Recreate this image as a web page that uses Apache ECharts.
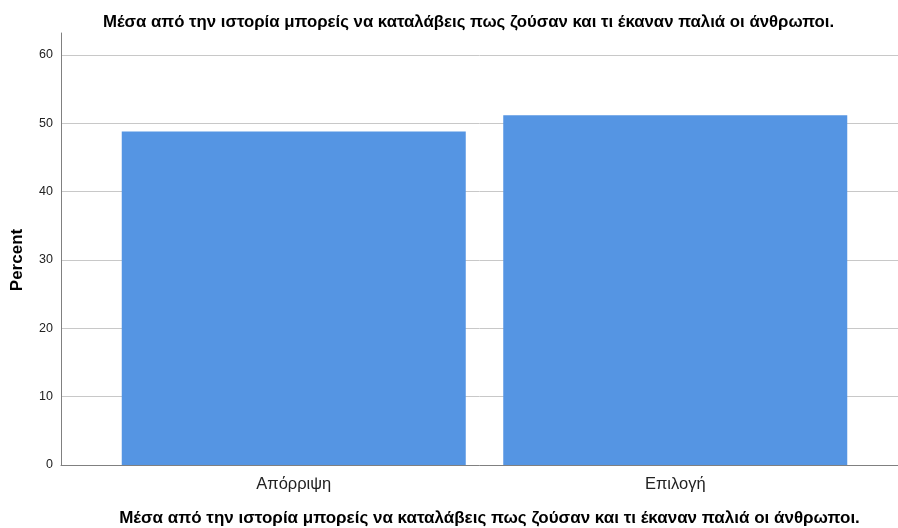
<!DOCTYPE html>
<html>
<head>
<meta charset="utf-8">
<script src="https://cdn.jsdelivr.net/npm/echarts@6/dist/echarts.min.js"></script>
<style>html,body{margin:0;padding:0;background:#fff;}#c{width:898px;height:528px;}</style>
</head>
<body>
<div id="c"></div>
<script>
const titleText = 'Μέσα από την ιστορία μπορείς να καταλάβεις πως ζούσαν και τι έκαναν παλιά οι άνθρωποι.';
const categories = ['Απόρριψη', 'Επιλογή'];
const percentValues = [48.8, 51.2];
const yTicks = [0, 10, 20, 30, 40, 50, 60];
const yAxisName = 'Percent';

const font = 'Liberation Sans, Arial, sans-serif';
const chart = echarts.init(document.getElementById('c'), null, {renderer: 'canvas'});
chart.setOption({
  animation: false,
  title: {
    text: titleText, left: 98, top: 9,
    textStyle: {fontFamily: font, fontSize: 16.8, fontWeight: 'bold', color: '#000'}
  },
  grid: [
    {left: 61, right: 0, top: 33, bottom: 63, outerBoundsMode: 'none', containLabel: false},
    {left: 61, right: 0, top: 55, bottom: 63, outerBoundsMode: 'none', containLabel: false},
    {left: 103, right: 32, top: 55, bottom: 63, outerBoundsMode: 'none', containLabel: false}
  ],
  xAxis: [
    {gridIndex: 0, type: 'value', show: false},
    {gridIndex: 1, type: 'value', min: 0, max: 1, axisLine: {show: true, onZero: false, lineStyle: {color: '#808080', width: 1}},
      axisTick: {show: false}, axisLabel: {show: false}, splitLine: {show: false}},
    {gridIndex: 2, type: 'category', data: categories,
      axisLine: {show: false}, axisTick: {show: false},
      axisLabel: {fontFamily: font, fontSize: 16.5, color: '#222', margin: 11},
      name: titleText, nameLocation: 'middle', nameGap: 45,
      nameTextStyle: {fontFamily: font, fontSize: 17, fontWeight: 'bold', color: '#000', padding: [0, 0, 0, 10]}}
  ],
  yAxis: [
    {gridIndex: 0, type: 'value', min: 0, max: 63.2,
      axisLine: {show: true, lineStyle: {color: '#808080', width: 1}},
      axisTick: {show: false}, axisLabel: {show: false}, splitLine: {show: false}},
    {gridIndex: 1, type: 'value', min: yTicks[0], max: yTicks[yTicks.length - 1], interval: 10,
      axisLine: {show: false}, axisTick: {show: false},
      axisLabel: {fontFamily: font, fontSize: 12.5, color: '#222', margin: 8},
      splitLine: {show: true, lineStyle: {color: '#c8c8c8', width: 1}},
      name: yAxisName, nameLocation: 'middle', nameGap: 35,
      nameTextStyle: {fontFamily: font, fontSize: 17, fontWeight: 'bold', color: '#000'}},
    {gridIndex: 2, type: 'value', min: yTicks[0], max: yTicks[yTicks.length - 1], show: false}
  ],
  series: [{
    type: 'bar', xAxisIndex: 2, yAxisIndex: 2, data: percentValues,
    barWidth: 344,
    itemStyle: {color: '#5595e3'}
  }]
});
</script>
</body>
</html>
